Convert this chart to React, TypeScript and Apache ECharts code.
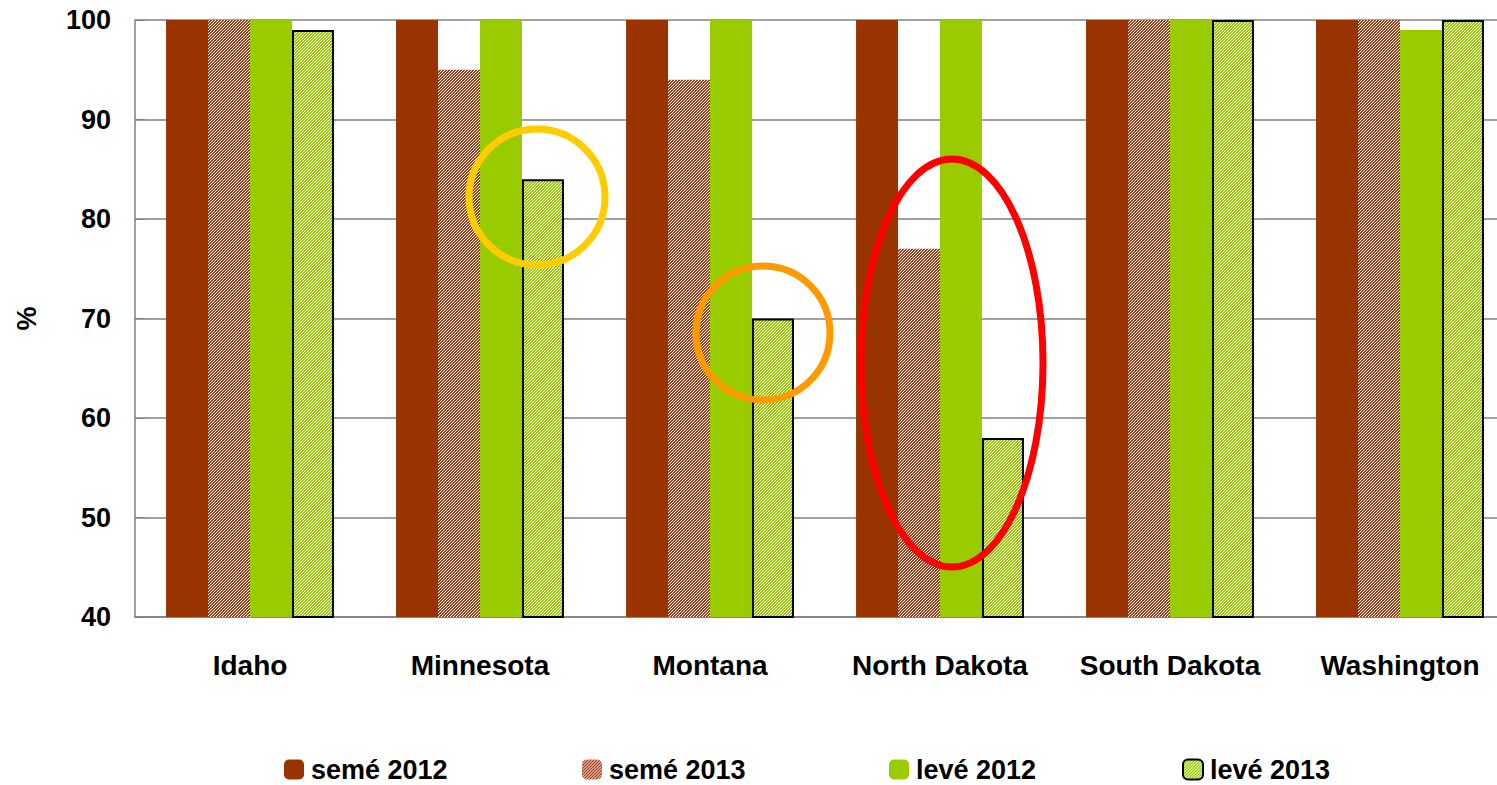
import React, { useEffect, useRef } from "react";
import * as echarts from "echarts";

const states = ["Idaho", "Minnesota", "Montana", "North Dakota", "South Dakota", "Washington"];
const seme2012 = [100, 100, 100, 100, 100, 100];
const seme2013 = [100, 95, 94, 77, 100, 100];
const leve2012 = [100, 100, 100, 100, 100, 99];
const leve2013 = [99, 84, 70, 58, 100, 100];
const seriesNames = ["semé 2012", "semé 2013", "levé 2012", "levé 2013"];

function makePattern(color: string) {
  const c = document.createElement("canvas");
  c.width = 3;
  c.height = 3;
  const ctx = c.getContext("2d")!;
  ctx.fillStyle = "#ffffff";
  ctx.fillRect(0, 0, 3, 3);
  ctx.fillStyle = color;
  for (let i = 0; i < 3; i++) {
    ctx.fillRect(i, 2 - i, 1, 1);
    ctx.fillRect((i + 1) % 3, 2 - i, 1, 1);
  }
  return { image: c, repeat: "repeat" as const };
}

const FONT = "Arial, 'Liberation Sans', sans-serif";

export default function App() {
  const ref = useRef<HTMLDivElement>(null);
  useEffect(() => {
    if (!ref.current) return;
    const chart = echarts.init(ref.current, undefined, { renderer: "svg" });
    const semePat = makePattern("#a23c14");
    const levePat = makePattern("#99cc00");
    const legendLefts = [282, 580, 887, 1180];
    chart.setOption({
      animation: false,
      backgroundColor: "#ffffff",
      grid: { left: 135, top: 20, bottom: 168, right: 0, containLabel: false },
      legend: seriesNames.map((n, i) => ({
        data: [n],
        left: legendLefts[i],
        top: 754,
        itemWidth: 20,
        itemHeight: 20,
        itemGap: 0,
        padding: 2,
        textStyle: { fontSize: 27, lineHeight: 22, fontWeight: "bold", color: "#000", fontFamily: FONT, padding: [0, 0, 0, 2] },
      })),
      xAxis: {
        type: "category",
        data: states,
        axisLine: { show: true, lineStyle: { color: "#808080", width: 1.5 } },
        axisTick: { show: false },
        axisLabel: { interval: 0, fontSize: 28, fontWeight: "bold", color: "#000", fontFamily: FONT, margin: 34 },
      },
      yAxis: {
        type: "value",
        min: 40,
        max: 100,
        interval: 10,
        name: "%",
        nameLocation: "middle",
        nameGap: 95,
        nameRotate: 90,
        nameTextStyle: { fontSize: 27, fontWeight: "bold", color: "#000", fontFamily: FONT },
        axisLine: { show: true, lineStyle: { color: "#808080", width: 1.5 } },
        axisTick: { show: true, inside: true, length: 10, lineStyle: { color: "#808080" } },
        axisLabel: { fontSize: 27, fontWeight: "bold", color: "#000", fontFamily: FONT, margin: 24 },
        splitLine: { show: true, lineStyle: { color: "#808080", width: 1.5 } },
      },
      series: [
        { name: seriesNames[0], type: "bar", data: seme2012, barGap: "0%", barCategoryGap: "27%", itemStyle: { color: "#993300" } },
        { name: seriesNames[1], type: "bar", data: seme2013, barGap: "0%", barCategoryGap: "27%", itemStyle: { color: semePat } },
        { name: seriesNames[2], type: "bar", data: leve2012, barGap: "0%", barCategoryGap: "27%", itemStyle: { color: "#99cc00" } },
        { name: seriesNames[3], type: "bar", data: leve2013, barGap: "0%", barCategoryGap: "27%", itemStyle: { color: levePat, borderColor: "#000", borderWidth: 2 } },
      ],
      graphic: [
        { type: "ellipse", z: 100, shape: { cx: 537, cy: 197, rx: 68, ry: 68 }, style: { fill: "none", stroke: "#ffcc00", lineWidth: 7 } },
        { type: "ellipse", z: 100, shape: { cx: 763, cy: 333, rx: 67, ry: 67 }, style: { fill: "none", stroke: "#ff9900", lineWidth: 7 } },
        { type: "ellipse", z: 100, shape: { cx: 952, cy: 363, rx: 91, ry: 204 }, style: { fill: "none", stroke: "#ff0000", lineWidth: 7 } },
      ],
    });
    return () => chart.dispose();
  }, []);
  return (
    <div style={{ position: "absolute", left: 0, top: 0, width: 1497, height: 785, overflow: "hidden" }}>
      <div ref={ref} style={{ width: 1515, height: 785 }} />
    </div>
  );
}
